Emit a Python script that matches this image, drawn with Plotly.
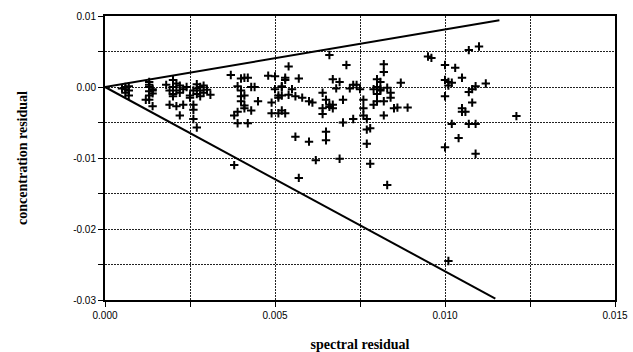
import plotly.graph_objects as go

# spectral residual (x) and concentration residual (y)
spec = [
    0.0006, 0.0006, 0.0007, 0.0006, 0.0007, 0.0005, 0.0007,
    0.0013, 0.0013, 0.0013, 0.0014, 0.0013, 0.0014, 0.0013, 0.0013, 0.0014, 0.0012, 0.0014,
    0.0018, 0.0019, 0.0021, 0.0020, 0.0021, 0.0020, 0.0021, 0.0020, 0.0022, 0.0022, 0.0023, 0.0023, 0.0022, 0.0019, 0.0020,
    0.0024, 0.0025, 0.0025, 0.0026, 0.0026, 0.0026, 0.0027, 0.0027, 0.0028, 0.0028, 0.0029, 0.0027, 0.0030, 0.0031, 0.0026, 0.0027, 0.0028, 0.0029,
    0.0037, 0.0038, 0.0038, 0.0039, 0.0039, 0.0039, 0.0040, 0.0040, 0.0040, 0.0041, 0.0041, 0.0041, 0.0042, 0.0042, 0.0043, 0.0043, 0.0044, 0.0041, 0.0040,
    0.0045, 0.0048, 0.0049, 0.0049, 0.0050, 0.0050, 0.0051, 0.0051, 0.0052, 0.0052, 0.0052, 0.0053, 0.0053, 0.0053, 0.0054, 0.0054, 0.0055, 0.0056, 0.0057, 0.0058, 0.0056, 0.0057, 0.0051, 0.0052,
    0.0060, 0.0061, 0.0060, 0.0062, 0.0065, 0.0065, 0.0064, 0.0064, 0.0064, 0.0065, 0.0066, 0.0066, 0.0067, 0.0067, 0.0066, 0.0067, 0.0068, 0.0069, 0.0069, 0.0070, 0.0070, 0.0071, 0.0072, 0.0073, 0.0074, 0.0073, 0.0075, 0.0076, 0.0076, 0.0077, 0.0077, 0.0077, 0.0078, 0.0078, 0.0076,
    0.0079, 0.0080, 0.0080, 0.0080, 0.0081, 0.0081, 0.0081, 0.0082, 0.0082, 0.0082, 0.0083, 0.0084, 0.0084, 0.0083, 0.0085, 0.0086, 0.0087, 0.0089, 0.0080, 0.0079, 0.0082,
    0.0095, 0.0096, 0.0100, 0.0100, 0.0100, 0.0100, 0.0101, 0.0101, 0.0101, 0.0102, 0.0102, 0.0103, 0.0104, 0.0105, 0.0105, 0.0105, 0.0106, 0.0107, 0.0107, 0.0107, 0.0108, 0.0108, 0.0109, 0.0109, 0.0109, 0.0110, 0.0112, 0.0121,
]
conc = [
    0.0000, -0.0003, -0.0005, -0.0008, -0.0012, -0.0002, 0.0001,
    0.0007, 0.0003, 0.0000, -0.0003, -0.0006, -0.0009, -0.0012, -0.0018, -0.0027, -0.0018, -0.0005,
    0.0003, -0.0025, -0.0027, 0.0010, 0.0005, 0.0000, -0.0005, -0.0010, -0.0008, 0.0002, -0.0003, -0.0025, -0.0040, -0.0005, -0.0013,
    0.0000, -0.0012, -0.0015, -0.0025, -0.0032, -0.0045, -0.0057, 0.0004, 0.0000, -0.0005, -0.0008, -0.0010, -0.0004, -0.0011, -0.0005, -0.0002, -0.0013, 0.0002,
    0.0017, -0.0040, -0.0110, -0.0035, 0.0001, -0.0051, 0.0012, -0.0005, -0.0013, -0.0012, -0.0030, -0.0026, 0.0013, -0.0051, -0.0033, 0.0000, 0.0000, 0.0013, -0.0020,
    -0.0020, 0.0016, -0.0022, -0.0037, 0.0015, -0.0003, -0.0037, -0.0012, -0.0012, 0.0001, -0.0033, -0.0037, 0.0010, 0.0013, -0.0011, 0.0029, -0.0003, -0.0013, 0.0012, -0.0015, -0.0070, -0.0128, -0.0015, 0.0000,
    -0.0020, -0.0022, -0.0077, -0.0103, -0.0063, -0.0075, -0.0008, -0.0030, -0.0038, -0.0018, -0.0025, 0.0045, -0.0030, -0.0025, -0.0028, 0.0011, -0.0002, -0.0101, 0.0007, -0.0018, -0.0050, 0.0031, -0.0002, 0.0003, 0.0003, -0.0045, -0.0003, -0.0018, -0.0030, -0.0045, -0.0060, -0.0080, -0.0058, -0.0108, -0.0040,
    -0.0025, -0.0020, 0.0000, 0.0011, -0.0003, -0.0005, 0.0007, 0.0032, -0.0040, -0.0020, -0.0138, -0.0015, -0.0008, -0.0001, -0.0030, -0.0029, 0.0006, -0.0029, -0.0010, -0.0003, 0.0021,
    0.0043, 0.0041, 0.0031, -0.0013, -0.0085, 0.0010, 0.0007, 0.0002, -0.0245, -0.0052, 0.0006, 0.0027, -0.0072, 0.0013, -0.0030, -0.0035, -0.0035, 0.0052, -0.0007, -0.0052, -0.0022, -0.0003, 0.0001, -0.0052, -0.0094, 0.0057, 0.0005, -0.0041,
]

upper_x = [0.0, 0.0116]
upper_y = [0.0, 0.0094]
lower_x = [0.0, 0.01148]
lower_y = [0.0, -0.0298]

x_tickvals = [0.0, 0.0025, 0.005, 0.0075, 0.010, 0.0125, 0.015]
x_ticktext = ["0.000", "", "0.005", "", "0.010", "", "0.015"]
y_tickvals = [0.01, 0.005, 0.0, -0.005, -0.01, -0.015, -0.02, -0.025, -0.03]
y_ticktext = ["0.01", "", "0.00", "", "-0.01", "", "-0.02", "", "-0.03"]

fig = go.Figure()
fig.add_trace(go.Scatter(x=upper_x, y=upper_y, mode="lines",
                         line=dict(color="black", width=2), showlegend=False))
fig.add_trace(go.Scatter(x=lower_x, y=lower_y, mode="lines",
                         line=dict(color="black", width=2), showlegend=False))
fig.add_trace(go.Scatter(x=spec, y=conc, mode="markers",
                         marker=dict(symbol="cross-thin", size=6, color="black",
                                     line=dict(color="black", width=2)),
                         showlegend=False))

axis_font = dict(family="Liberation Sans, Arial", size=10, color="black")
title_font = dict(family="Liberation Serif, Times New Roman", size=14, color="black")

fig.update_layout(
    width=633, height=352,
    margin=dict(l=105, r=18, t=16, b=52),
    paper_bgcolor="white", plot_bgcolor="white",
    xaxis=dict(range=[0, 0.015], tickvals=x_tickvals, ticktext=x_ticktext, automargin=False,
               showgrid=True, gridcolor="#222", gridwidth=1, griddash="2px,1px",
               zeroline=False, showline=True, linecolor="black", linewidth=2, mirror=True,
               ticks="outside", ticklen=5, tickcolor="black", tickfont=axis_font,
               title=dict(text="<b>spectral residual</b>", font=title_font, standoff=20)),
    yaxis=dict(range=[-0.03, 0.01], tickvals=y_tickvals, ticktext=y_ticktext, automargin=False,
               showgrid=True, gridcolor="#222", gridwidth=1, griddash="2px,1px",
               zeroline=False, showline=True, linecolor="black", linewidth=2, mirror=True,
               ticks="outside", ticklen=5, tickcolor="black", tickfont=axis_font,
               title=dict(text="<b>concentration residual</b>", font=title_font, standoff=42)),
)

fig.write_html("out.html")
